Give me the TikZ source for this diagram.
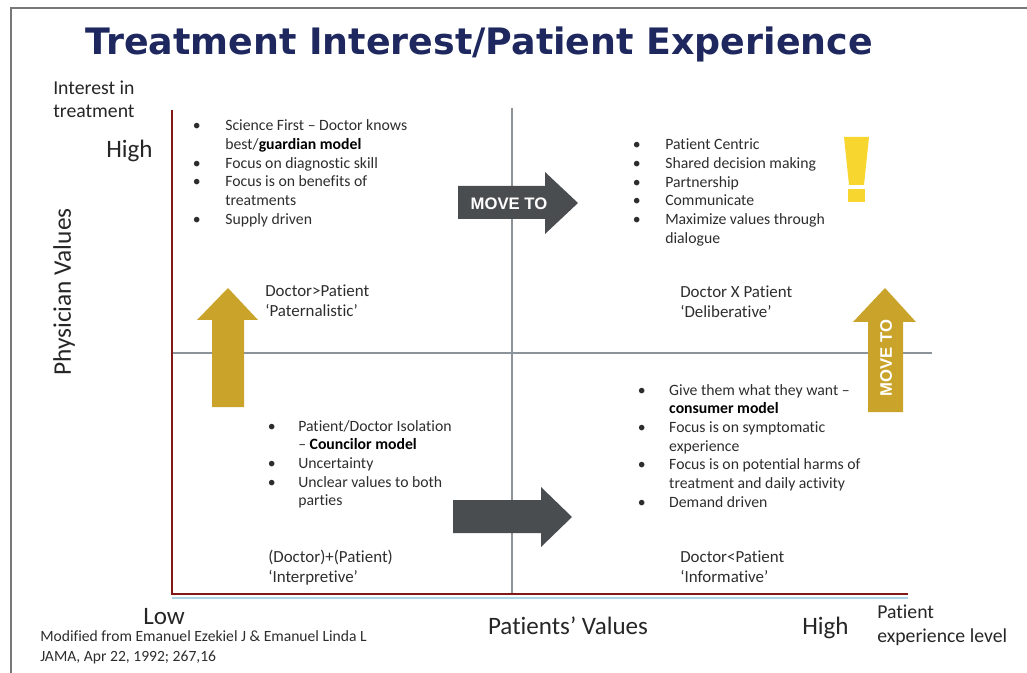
\documentclass[tikz,border=0pt]{standalone}
\usepackage{fontspec}
\setmainfont{Carlito}[Ligatures=NoCommon]
\newfontfamily\titlefont{DejaVu Sans}
\newfontfamily\arialfont{Liberation Sans}
\definecolor{framegray}{RGB}{120,120,120}
\definecolor{navy}{RGB}{30,40,95}
\definecolor{axisred}{RGB}{130,25,25}
\definecolor{quadgray}{RGB}{140,148,153}
\definecolor{shadowblue}{RGB}{170,215,232}
\definecolor{gold}{RGB}{201,163,42}
\definecolor{darkarrow}{RGB}{74,77,80}
\definecolor{brightyellow}{RGB}{248,214,48}
\definecolor{txt}{RGB}{45,45,45}
\newcommand\blist[2]{\begin{tabular}[t]{@{}p{#1}@{}l@{}}#2\end{tabular}}
\tikzset{
  bul/.style={inner sep=0pt, anchor=base west, text=txt, font=\fontsize{11.8}{14}\selectfont},
  quad/.style={font=\fontsize{12.7}{15}\selectfont, inner sep=0pt, anchor=base west, text=txt, align=left},
  axl/.style={font=\fontsize{18.8}{22}\selectfont, inner sep=0pt, anchor=base west, text=black!85},
  axs/.style={font=\fontsize{14.8}{17.5}\selectfont, inner sep=0pt, anchor=base west, text=black!85, align=left},
  movetxt/.style={font=\arialfont\bfseries\fontsize{12.5}{14}\selectfont, text=white, inner sep=0pt}
}
\begin{document}
\begin{tikzpicture}[x=0.75pt,y=-0.75pt]
\useasboundingbox (0,0) rectangle (1027,673);
% frame
\draw[framegray, line width=1.5pt] (11,673) -- (11,8) -- (1027,8);
% title
\node[inner sep=0pt, anchor=base west, text=navy, font=\titlefont\bfseries\fontsize{27.3}{30}\selectfont] (title) at (85,55) {Treatment Interest/Patient Experience};
% quadrant lines
\draw[quadgray, line width=2.2pt] (512,108) -- (512,594);
\draw[quadgray, line width=2.2pt] (172,353) -- (932,353);
% axes
\draw[shadowblue, line width=1.5pt] (172,597.5) -- (908,597.5);
\draw[axisred, line width=2.2pt] (172,110) -- (172,594) -- (908,594);
% axis labels (multi-line nodes: base = last line)
\node[axs] (interest) at (53,118) {Interest in\\treatment};
\node[axl] (highy) at (106,158) {High};
\node[inner sep=0pt, rotate=90, font=\fontsize{19}{22}\selectfont, text=black!85] (phys) at (64,292) {Physician Values};
\node[axl] (low) at (143,624) {Low};
\node[axl, anchor=base] (pval) at (568,634) {Patients’ Values};
\node[axl] (highx) at (802,634) {High};
\node[axs] (pel) at (877,642) {Patient\\experience level};
\node[inner sep=0pt, anchor=base west, text=txt, font=\fontsize{11.7}{15}\selectfont, align=left] (src) at (40,661) {Modified from Emanuel Ezekiel J \& Emanuel Linda L\\JAMA, Apr 22, 1992; 267,16};
% quadrant texts
\node[bul] (ul) at (192.5,131) {\blist{24.4pt}{%
\textbullet & Science First – Doctor knows\\
 & best/\textbf{\color{black}guardian model}\\
\textbullet & Focus on diagnostic skill\\
\textbullet & Focus is on benefits of\\
 & treatments\\
\textbullet & Supply driven}};
\node[bul] (ur) at (632.5,150) {\blist{24.4pt}{%
\textbullet & Patient Centric\\
\textbullet & Shared decision making\\
\textbullet & Partnership\\
\textbullet & Communicate\\
\textbullet & Maximize values through\\
 & dialogue}};
\node[bul] (ll) at (267.5,431) {\blist{22.9pt}{%
\textbullet & Patient/Doctor Isolation\\
 & – \textbf{\color{black}Councilor model}\\
\textbullet & Uncertainty\\
\textbullet & Unclear values to both\\
 & parties}};
\node[bul] (lr) at (637.5,395) {\blist{23.6pt}{%
\textbullet & Give them what they want –\\
 & \textbf{\color{black}consumer model}\\
\textbullet & Focus is on symptomatic\\
 & experience\\
\textbullet & Focus is on potential harms of\\
 & treatment and daily activity\\
\textbullet & Demand driven}};
\node[quad] (pat) at (265,317) {Doctor>Patient\\‘Paternalistic’};
\node[quad] (del) at (680,318) {Doctor X Patient\\‘Deliberative’};
\node[quad] (int) at (268,582) {(Doctor)+(Patient)\\‘Interpretive’};
\node[quad] (inf) at (680,582) {Doctor<Patient\\‘Informative’};
% arrows
\fill[darkarrow] (458,186) -- (545,186) -- (545,172) -- (578,203) -- (545,234) -- (545,219) -- (458,219) -- cycle;
\node[movetxt] (mv1) at (509,203.5) {MOVE TO};
\fill[darkarrow] (453,500) -- (541,500) -- (541,487) -- (572,517) -- (541,547) -- (541,533) -- (453,533) -- cycle;
\fill[gold] (212,407) -- (212,320) -- (197,320) -- (228,288) -- (258,320) -- (244,320) -- (244,407) -- cycle;
\fill[gold] (868,412) -- (868,322) -- (853,322) -- (885,288) -- (916,322) -- (903,322) -- (903,412) -- cycle;
\node[movetxt, rotate=90] (mv2) at (886,358) {MOVE TO};
% exclamation
\fill[brightyellow] (844,137) -- (869,137) -- (864,185) -- (849,185) -- cycle;
\fill[brightyellow] (848,189) rectangle (865,202);
\end{tikzpicture}
\end{document}
